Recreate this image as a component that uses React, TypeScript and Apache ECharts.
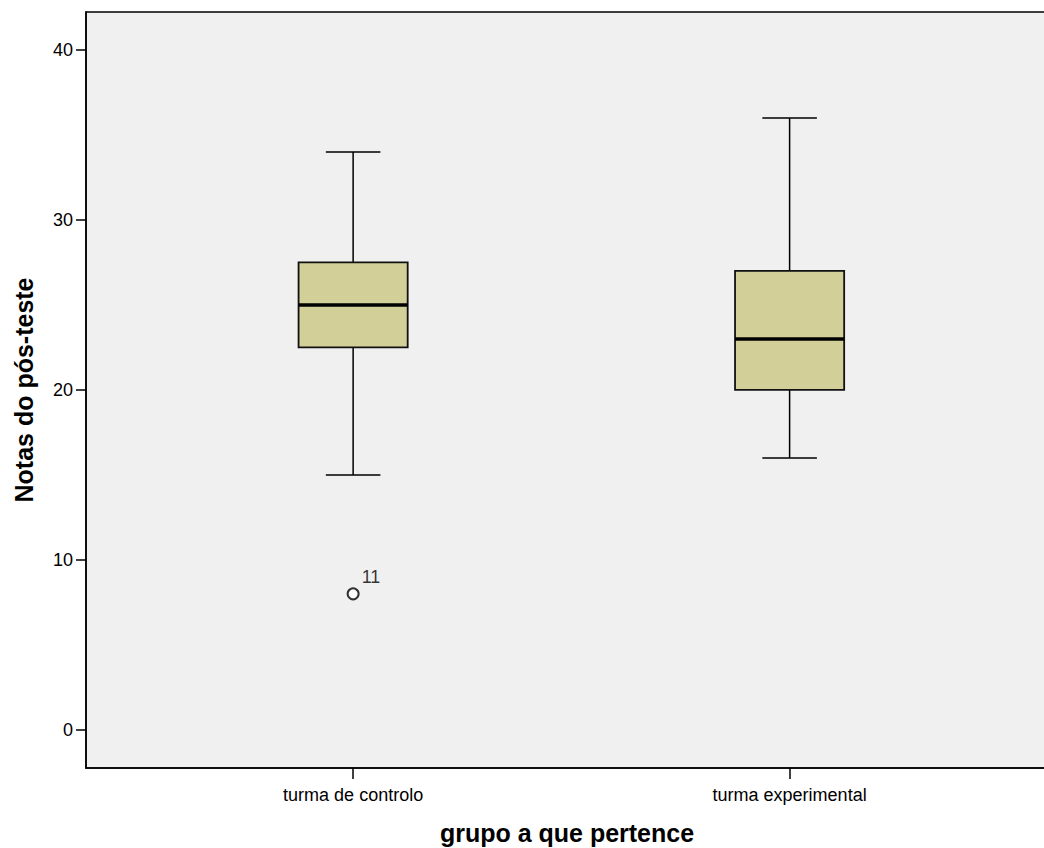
import React, { useEffect, useRef } from "react";
import * as echarts from "echarts";

const categories = ["turma de controlo", "turma experimental"];
// [position, min, Q1, median, Q3, max]
const boxData = [
  [1, 15, 22.5, 25, 27.5, 34],
  [2, 16, 20, 23, 27, 36],
];
// outliers: [position, value, case label]
const outliers: [number, number, string][] = [[1, 8, "11"]];
const yTicks = [0, 10, 20, 30, 40];

const FONT = "'Liberation Sans', Arial, sans-serif";

export default function App() {
  const ref = useRef<HTMLDivElement>(null);
  useEffect(() => {
    if (!ref.current) return;
    const chart = echarts.init(ref.current, undefined, { renderer: "svg" });
    chart.setOption({
      animation: false,
      backgroundColor: "#ffffff",
      grid: {
        left: 86,
        top: 12,
        right: -4,
        bottom: 80,
        containLabel: false,
        outerBoundsMode: "none",
        show: true,
        backgroundColor: "#f0f0f0",
        borderColor: "#000",
        borderWidth: 1.5,
      },
      xAxis: {
        type: "value",
        min: 0.388,
        max: 2.592,
        name: "grupo a que pertence",
        nameLocation: "middle",
        nameGap: 52,
        nameTextStyle: { fontFamily: FONT, fontSize: 25, fontWeight: "bold", color: "#000" },
        splitLine: { show: false },
        axisLine: { show: true, onZero: false, lineStyle: { color: "#000", width: 1.5 } },
        axisTick: { show: true, length: 11, customValues: [1, 2], lineStyle: { color: "#000", width: 1.5 } },
        axisLabel: {
          customValues: [1, 2],
          margin: 18,
          fontFamily: FONT,
          fontSize: 18,
          color: "#000",
          formatter: (v: number) => categories[Math.round(v) - 1] ?? "",
        },
      },
      yAxis: {
        type: "value",
        min: -2.25,
        max: 42.24,
        name: "Notas do pós-teste",
        nameLocation: "middle",
        nameGap: 50,
        nameTextStyle: { fontFamily: FONT, fontSize: 25, fontWeight: "bold", color: "#000" },
        splitLine: { show: false },
        axisLine: { show: true, onZero: false, lineStyle: { color: "#000", width: 1.5 } },
        axisTick: { show: true, length: 10, customValues: yTicks, lineStyle: { color: "#000", width: 1.5 } },
        axisLabel: {
          customValues: yTicks,
          margin: 13,
          fontFamily: FONT,
          fontSize: 18,
          color: "#000",
        },
      },
      series: [
        {
          type: "custom",
          data: boxData,
          encode: { x: 0, y: [1, 2, 3, 4, 5] },
          renderItem: (params: any, api: any) => {
            const x = api.value(0);
            const pMin = api.coord([x, api.value(1)]);
            const pQ1 = api.coord([x, api.value(2)]);
            const pMed = api.coord([x, api.value(3)]);
            const pQ3 = api.coord([x, api.value(4)]);
            const pMax = api.coord([x, api.value(5)]);
            const w = api.size([0.25, 0])[0];
            const cx = pMin[0];
            const half = w / 2;
            const cap = w / 4;
            const ls = { stroke: "#000", lineWidth: 1.5, fill: null };
            return {
              type: "group",
              children: [
                { type: "line", shape: { x1: cx, y1: pMax[1], x2: cx, y2: pQ3[1] }, style: ls },
                { type: "line", shape: { x1: cx, y1: pQ1[1], x2: cx, y2: pMin[1] }, style: ls },
                { type: "line", shape: { x1: cx - cap, y1: pMax[1], x2: cx + cap, y2: pMax[1] }, style: ls },
                { type: "line", shape: { x1: cx - cap, y1: pMin[1], x2: cx + cap, y2: pMin[1] }, style: ls },
                {
                  type: "rect",
                  shape: { x: cx - half, y: pQ3[1], width: w, height: pQ1[1] - pQ3[1] },
                  style: { fill: "#d3cf99", stroke: "#111", lineWidth: 1.8 },
                },
                {
                  type: "line",
                  shape: { x1: cx - half, y1: pMed[1], x2: cx + half, y2: pMed[1] },
                  style: { stroke: "#000", lineWidth: 3.5 },
                },
              ],
            };
          },
        },
        {
          type: "scatter",
          data: outliers.map((o) => [o[0], o[1], o[2]]),
          symbol: "emptyCircle",
          symbolSize: 11,
          itemStyle: { color: "#000", borderColor: "#000", borderWidth: 1.5 },
          label: {
            show: true,
            formatter: (p: any) => p.value[2],
            position: "right",
            offset: [-3, -17],
            fontFamily: FONT,
            fontSize: 18,
            color: "#000000",
            textBorderWidth: 0,
          },
        },
      ],
    });
    return () => chart.dispose();
  }, []);
  return (
    <div
      ref={ref}
      style={{ position: "absolute", left: 0, top: 0, width: 1044, height: 848 }}
    />
  );
}
